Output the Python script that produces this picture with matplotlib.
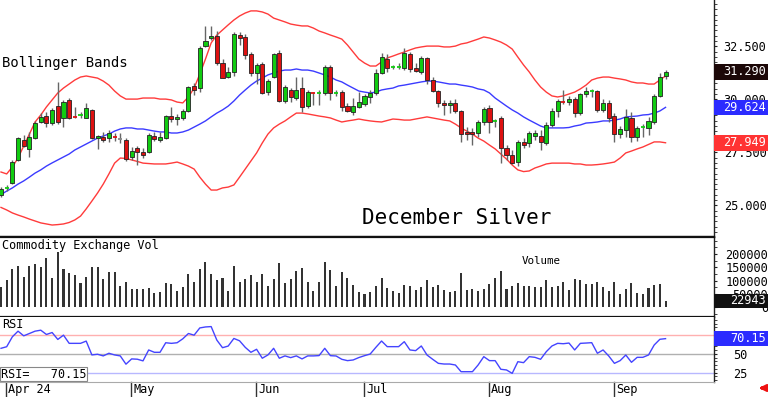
import matplotlib
matplotlib.use('Agg')
import matplotlib.pyplot as plt
import matplotlib.transforms as mtrans
from matplotlib.patches import Rectangle, FancyArrowPatch
from matplotlib.ticker import MultipleLocator, FixedLocator
import numpy as np

# ---------------- data ----------------
opens = [25.49, 25.80, 26.05, 27.14, 28.08, 27.66, 28.17, 28.93, 29.21, 28.88,
         29.68, 29.12, 29.97, 29.19, 29.24, 29.12, 29.50, 28.17, 28.22, 28.17,
         28.24, 28.13, 28.08, 27.28, 27.70, 27.51, 27.51, 28.27, 28.08, 28.17,
         29.21, 29.07, 29.12, 29.45, 30.63, 30.53, 32.51, 32.89, 32.99, 31.71,
         31.05, 31.29, 33.03, 32.94, 32.14, 31.24, 31.67, 30.34, 31.05, 32.18,
         29.92, 30.44, 30.06, 30.53, 29.68, 30.30, 30.30, 30.30, 31.52, 30.30,
         30.34, 29.68, 29.40, 29.64, 29.78, 30.11, 30.30, 31.24, 31.90, 31.50,
         31.52, 31.48, 32.14, 31.48, 31.29, 31.95, 30.91, 30.39, 29.83, 29.73,
         29.83, 29.45, 28.46, 28.46, 28.41, 28.93, 29.59, 28.95, 29.12, 27.70,
         27.37, 27.04, 27.99, 27.94, 28.27, 28.27, 27.94, 28.79, 29.45, 29.90,
         29.87, 30.01, 29.35, 30.25, 30.35, 30.39, 29.50, 29.83, 29.21, 28.36,
         28.55, 29.12, 28.22, 28.67, 28.65, 28.93, 30.15, 31.10]
highs = [25.85, 25.96, 27.14, 28.22, 28.32, 28.46, 28.98, 29.35, 29.40, 29.60,
         30.82, 29.97, 30.06, 29.64, 29.40, 29.83, 29.55, 28.32, 28.46, 28.55,
         28.41, 28.41, 28.17, 27.75, 27.80, 27.70, 28.41, 28.46, 28.46, 29.26,
         29.64, 29.31, 29.54, 30.63, 30.77, 32.51, 33.46, 33.46, 33.22, 31.90,
         31.52, 33.18, 33.18, 33.08, 32.23, 31.71, 31.76, 30.96, 32.18, 32.33,
         30.67, 30.53, 31.05, 31.05, 30.44, 30.34, 30.44, 31.62, 31.62, 30.44,
         30.44, 29.83, 30.06, 30.34, 30.25, 30.44, 31.44, 32.18, 32.14, 31.62,
         31.71, 32.42, 32.23, 31.71, 32.04, 32.00, 31.05, 30.44, 29.97, 29.97,
         30.01, 29.50, 28.69, 28.65, 29.02, 29.64, 29.73, 29.07, 29.21, 27.84,
         27.61, 28.08, 28.17, 28.50, 28.55, 28.55, 28.93, 29.59, 30.01, 30.44,
         30.15, 30.11, 30.30, 30.58, 30.49, 30.44, 30.01, 29.97, 29.35, 28.74,
         29.54, 29.40, 28.74, 28.83, 29.16, 30.25, 31.24, 31.38]
lows = [25.40, 25.68, 26.00, 27.10, 27.75, 27.28, 28.13, 28.88, 28.68, 28.80,
        28.85, 28.69, 29.07, 29.10, 29.14, 29.10, 28.13, 27.66, 27.98, 27.98,
        28.03, 27.93, 27.09, 27.14, 26.90, 27.23, 27.46, 28.03, 27.98, 28.13,
        28.93, 28.80, 29.03, 29.40, 30.20, 30.34, 32.47, 32.80, 31.62, 31.00,
        31.00, 31.10, 32.56, 31.90, 31.10, 30.72, 30.25, 30.20, 31.00, 29.87,
        29.82, 29.87, 29.97, 29.40, 29.59, 29.73, 29.73, 30.20, 29.97, 30.15,
        29.45, 29.40, 29.26, 29.59, 29.68, 29.82, 30.20, 31.20, 31.29, 31.43,
        31.43, 31.38, 31.29, 31.29, 31.20, 30.72, 30.34, 29.64, 29.26, 29.35,
        29.35, 27.98, 28.08, 27.84, 28.22, 28.79, 28.41, 28.69, 26.99, 27.14,
        26.95, 26.85, 27.70, 27.75, 28.08, 27.61, 27.84, 28.69, 29.16, 29.78,
        29.73, 29.16, 29.26, 30.11, 30.11, 29.40, 29.40, 28.93, 27.99, 28.17,
        28.22, 27.99, 28.03, 28.22, 28.32, 28.83, 30.11, 30.96]
closes = [25.77, 25.82, 27.04, 28.17, 27.80, 28.22, 28.88, 29.17, 28.88, 29.50,
          28.93, 29.87, 29.12, 29.15, 29.28, 29.59, 28.17, 28.27, 28.08, 28.41,
          28.20, 28.13, 27.18, 27.56, 27.51, 27.37, 28.32, 28.13, 28.22, 29.21,
          29.07, 29.17, 29.45, 30.58, 30.44, 32.42, 32.75, 32.99, 31.71, 31.00,
          31.29, 33.08, 32.89, 32.09, 31.24, 31.62, 30.30, 30.86, 32.14, 29.92,
          30.58, 30.11, 30.44, 29.64, 30.34, 30.27, 30.34, 31.52, 30.30, 30.34,
          29.64, 29.45, 29.68, 29.87, 30.15, 30.30, 31.24, 32.00, 31.48, 31.54,
          31.55, 32.18, 31.43, 31.33, 31.95, 30.91, 30.39, 29.83, 29.73, 29.83,
          29.45, 28.36, 28.36, 28.36, 28.93, 29.54, 28.93, 28.99, 27.70, 27.37,
          27.00, 27.99, 27.84, 28.41, 28.41, 27.99, 28.79, 29.45, 29.92, 29.85,
          30.01, 29.35, 30.25, 30.39, 30.39, 29.50, 29.83, 29.12, 28.36, 28.60,
          29.17, 28.22, 28.65, 28.70, 28.98, 30.15, 31.05, 31.29]

bb_upper = [26.57, 26.48, 26.81, 27.23, 27.80, 28.36, 28.93, 29.26, 29.64, 29.97,
            30.30, 30.53, 30.72, 30.91, 31.05, 31.10, 31.05, 31.00, 30.86, 30.67,
            30.39, 30.16, 30.01, 30.01, 30.01, 30.06, 30.06, 30.06, 30.01, 30.01,
            29.97, 29.87, 29.83, 30.11, 30.53, 31.19, 31.90, 32.66, 33.03, 33.27,
            33.51, 33.74, 33.93, 34.07, 34.17, 34.17, 34.12, 34.02, 33.83, 33.74,
            33.65, 33.55, 33.50, 33.46, 33.46, 33.36, 33.22, 33.13, 33.03, 32.94,
            32.84, 32.56, 32.23, 31.90, 31.71, 31.57, 31.57, 31.76, 31.95, 32.04,
            32.14, 32.23, 32.33, 32.42, 32.47, 32.51, 32.51, 32.51, 32.47, 32.47,
            32.51, 32.61, 32.66, 32.75, 32.84, 32.94, 32.89, 32.80, 32.70, 32.56,
            32.37, 31.99, 31.62, 31.29, 30.91, 30.58, 30.34, 30.16, 30.11, 30.16,
            30.25, 30.34, 30.49, 30.67, 30.91, 31.00, 31.05, 31.05, 31.00, 30.96,
            30.91, 30.82, 30.77, 30.77, 30.72, 30.72, 30.91, 31.10]
bb_middle = [25.51, 25.67, 25.82, 26.00, 26.15, 26.33, 26.52, 26.67, 26.85, 27.00,
             27.14, 27.28, 27.42, 27.61, 27.75, 27.89, 28.03, 28.17, 28.27, 28.36,
             28.50, 28.60, 28.65, 28.65, 28.60, 28.60, 28.55, 28.50, 28.46, 28.46,
             28.41, 28.41, 28.46, 28.55, 28.69, 28.83, 28.98, 29.17, 29.35, 29.50,
             29.68, 29.92, 30.20, 30.44, 30.67, 30.86, 31.00, 31.15, 31.24, 31.33,
             31.38, 31.38, 31.43, 31.38, 31.38, 31.33, 31.24, 31.15, 31.05, 30.91,
             30.82, 30.67, 30.53, 30.39, 30.34, 30.30, 30.34, 30.44, 30.49, 30.53,
             30.63, 30.67, 30.72, 30.77, 30.82, 30.86, 30.86, 30.82, 30.77, 30.72,
             30.72, 30.67, 30.63, 30.58, 30.49, 30.44, 30.30, 30.06, 29.87, 29.68,
             29.50, 29.35, 29.17, 29.02, 28.88, 28.74, 28.65, 28.65, 28.65, 28.65,
             28.67, 28.74, 28.79, 28.88, 28.90, 28.93, 28.98, 28.98, 29.02, 29.07,
             29.17, 29.19, 29.21, 29.26, 29.28, 29.35, 29.45, 29.62]
bb_lower = [24.90, 24.78, 24.64, 24.54, 24.45, 24.35, 24.26, 24.17, 24.12, 24.07,
            24.09, 24.12, 24.19, 24.31, 24.49, 24.83, 25.20, 25.58, 26.00, 26.48,
            26.99, 27.23, 27.21, 27.14, 27.07, 26.99, 26.97, 26.95, 26.95, 26.95,
            26.99, 27.04, 26.95, 26.85, 26.71, 26.33, 26.00, 25.72, 25.72, 25.82,
            25.86, 25.96, 26.33, 26.71, 27.09, 27.47, 27.94, 28.36, 28.65, 28.83,
            28.98, 29.17, 29.35, 29.35, 29.31, 29.26, 29.21, 29.17, 29.12, 29.02,
            28.93, 28.98, 29.02, 29.07, 29.02, 28.98, 28.95, 28.93, 29.00, 29.07,
            29.05, 29.02, 29.02, 29.07, 29.12, 29.17, 29.12, 29.07, 29.02, 28.98,
            28.83, 28.65, 28.50, 28.36, 28.17, 28.03, 27.84, 27.66, 27.42, 27.18,
            26.90, 26.67, 26.59, 26.62, 26.76, 26.85, 26.95, 26.99, 26.99, 26.99,
            26.99, 26.95, 26.95, 26.90, 26.90, 26.92, 26.95, 26.99, 27.04, 27.23,
            27.47, 27.56, 27.66, 27.75, 27.87, 27.99, 27.99, 27.95]

volume = [76600, 102000, 143000, 155000, 114000, 155000, 162000, 152000, 186000, 111000,
          208000, 142000, 127000, 121000, 92000, 114000, 150000, 152000, 106000, 133000,
          131000, 79000, 95000, 68000, 68000, 69000, 70000, 54000, 58000, 92000,
          86000, 60000, 77000, 125000, 95000, 142000, 171000, 125000, 102000, 111000,
          60000, 156000, 93000, 106000, 121000, 93000, 123000, 78000, 106000, 167000,
          89000, 106000, 136000, 146000, 93000, 62000, 93000, 171000, 140000, 79000,
          133000, 111000, 83000, 58000, 49000, 55000, 80000, 108000, 73000, 60000,
          54000, 83000, 80000, 64000, 77000, 102000, 77000, 83000, 64000, 58000,
          60000, 127000, 64000, 68000, 60000, 68000, 86000, 108000, 137000, 68000,
          80000, 89000, 80000, 80000, 77000, 77000, 102000, 77000, 80000, 93000,
          64000, 105000, 102000, 86000, 86000, 95000, 77000, 60000, 93000, 48000,
          67000, 89000, 52000, 49000, 70000, 83000, 87000, 22943]

rsi = [57.3, 59.4, 72.6, 80.1, 73.9, 77.0, 80.1, 81.4, 75.7, 78.3,
       69.1, 74.8, 63.9, 63.9, 63.9, 66.9, 48.5, 49.4, 47.2, 50.7,
       48.5, 47.2, 36.2, 43.2, 42.8, 40.6, 55.1, 52.0, 52.0, 64.7,
       63.9, 64.7, 69.9, 77.0, 74.8, 84.4, 85.7, 86.2, 68.2, 58.1,
       60.3, 70.4, 67.3, 58.6, 52.0, 56.0, 44.1, 48.5, 57.3, 44.1,
       47.2, 44.9, 47.2, 43.2, 47.2, 47.2, 47.6, 57.3,
       47.5, 47.1, 42.7, 40.9, 41.8, 45.0, 47.5, 49.7, 58.6, 67.0,
       59.5, 59.5, 59.5, 66.1, 55.1, 54.2, 60.4, 48.4, 42.7, 37.3,
       36.4, 36.4, 35.1, 26.2, 26.2, 26.2, 35.1, 46.2, 40.9, 40.9,
       29.4, 28.5, 24.0, 39.5, 38.2, 46.2, 45.3, 42.7, 52.8, 60.4,
       63.9, 63.4, 64.3, 55.1, 63.9, 64.3, 64.8, 50.7, 55.1, 47.1,
       37.3, 40.9, 48.4, 38.7, 45.3, 45.3, 48.4, 61.7, 69.3, 70.15]

month_pos = [1, 23, 45, 64, 86, 108]
month_labels = ['Apr 24', 'May', 'Jun', 'Jul', 'Aug', 'Sep']

price_ticks = [25.0, 27.5, 30.0, 32.5]
price_tick_labels = ['25.000', '27.500', '30.000', '32.500']
vol_ticks = [0, 50000, 100000, 150000, 200000]
vol_tick_labels = ['0', '50000', '100000', '150000', '200000']
rsi_ticks = [25, 50, 75]
rsi_tick_labels = ['25', '50', '75']

last_close_label = '31.290'
mid_label = '29.624'
low_label = '27.949'
last_volume_label = '22943'
rsi_label = '70.15'

# ---------------- styling ----------------
plt.rcParams['font.family'] = ['DejaVu Sans Mono', 'DejaVu Sans']
UP = '#11cc11'
DOWN = '#dd1111'
EDGE = '#222222'
WICK = '#666666'
BAND_RED = '#ff3b3b'
BAND_BLUE = '#3b3bff'
FS = 8.6

W, H = 768, 397
fig = plt.figure(figsize=(W / 100, H / 100), dpi=100)
fig.patch.set_facecolor('white')


def rect(top, bottom, left=0, right=714):
    return [left / W, 1 - bottom / H, (right - left) / W, (bottom - top) / H]


axp = fig.add_axes(rect(0, 237))
axv = fig.add_axes(rect(237, 317))
axr = fig.add_axes(rect(317, 381.7))

n = len(closes)
x = np.arange(n)
xlim = (-0.176, 125.53)

for ax in (axp, axv, axr):
    ax.set_xlim(*xlim)
    ax.set_xticks([])
    ax.yaxis.tick_right()
    ax.spines['left'].set_visible(False)
    ax.spines['right'].set_color('#222222')
    ax.spines['right'].set_linewidth(1.0)
    ax.tick_params(axis='y', which='both', direction='out', colors='#222222',
                   labelcolor='black', labelsize=FS)
    ax.tick_params(axis='y', which='major', length=2, width=0.8)
    ax.tick_params(axis='y', which='minor', length=2, width=0.6)

# ---- price panel ----
axp.set_ylim(23.505, 34.684)
axp.spines['top'].set_visible(False)
axp.spines['bottom'].set_color('#111111')
axp.spines['bottom'].set_linewidth(1.6)

o = np.array(opens); c = np.array(closes)
h = np.array(highs); l = np.array(lows)
axp.vlines(x, l, h, color=WICK, lw=1.0, zorder=2)
small = np.abs(c - o) < 0.05
big = ~small
cols = np.where(c > o, UP, np.where(c < o, DOWN, '#888888'))
axp.bar(x[big], np.abs(c - o)[big], bottom=np.minimum(o, c)[big], width=0.72,
        color=cols[big], edgecolor=EDGE, linewidth=0.6, zorder=3)
axp.hlines(((o + c) / 2)[small], x[small] - 0.36, x[small] + 0.36,
           colors=cols[small], lw=1.3, zorder=3)

axp.plot(x, bb_upper, color=BAND_RED, lw=1.0, zorder=1)
axp.plot(x, bb_lower, color=BAND_RED, lw=1.0, zorder=1)
axp.plot(x, bb_middle, color=BAND_BLUE, lw=1.0, zorder=1)

axp.set_yticks(price_ticks, price_tick_labels)
axp.yaxis.set_minor_locator(MultipleLocator(0.25))
axp.tick_params(axis='y', which='major', pad=5)

axp.text(2 / 714, 1 - 63 / 237, 'Bollinger Bands', transform=axp.transAxes,
         ha='left', va='center', fontsize=10, color='black')
axp.text(362 / 714, 1 - 218 / 237, 'December Silver', transform=axp.transAxes,
         ha='left', va='center', fontsize=15, color='black')

# ---- volume panel ----
axv.set_ylim(-37740, 264180)
for s in ('top', 'bottom'):
    axv.spines[s].set_color('#111111')
    axv.spines[s].set_linewidth(1.6)
axv.bar(x, volume, width=0.36, color='#333333', zorder=2)
axv.set_yticks(vol_ticks, vol_tick_labels)
axv.yaxis.set_minor_locator(MultipleLocator(25000))
axv.tick_params(axis='y', which='major', pad=37)
for lab in axv.get_yticklabels():
    lab.set_horizontalalignment('right')
axv.text(2 / 714, 1 - 8 / 80, 'Commodity Exchange Vol', transform=axv.transAxes,
         ha='left', va='center', fontsize=8.6)
axv.text(522 / 714, 1 - 24 / 80, 'Volume', transform=axv.transAxes,
         ha='left', va='center', fontsize=7.8)

# ---- RSI panel ----
axr.set_ylim(12.89, 98.94)
axr.spines['top'].set_visible(False)
axr.spines['bottom'].set_color('#aaaaaa')
axr.spines['bottom'].set_linewidth(0.8)
axr.axhline(75, color='#ffb0b0', lw=1.0, zorder=1)
axr.axhline(50, color='#b0b0b0', lw=1.0, zorder=1)
axr.axhline(25, color='#b8b8ff', lw=1.0, zorder=1)
axr.plot(x, rsi, color='#4444ff', lw=1.0, zorder=3)
axr.set_yticks(rsi_ticks, rsi_tick_labels)
axr.yaxis.set_minor_locator(MultipleLocator(5))
axr.tick_params(axis='y', which='major', pad=12)
axr.text(2 / 714, 1 - 8 / 64.7, 'RSI', transform=axr.transAxes,
         ha='left', va='center', fontsize=8.6)
axr.add_patch(Rectangle((0, 0.011), 87 / 714, 0.216, transform=axr.transAxes,
                        facecolor='white', edgecolor='#888888', lw=0.8, zorder=4))
axr.text(1 / 714, 0.119, 'RSI=   ' + rsi_label, transform=axr.transAxes,
         ha='left', va='center', fontsize=8.5, zorder=5)

# ---- date axis ----
bl = mtrans.blended_transform_factory(axr.transData, axr.transAxes)
for pos, lab in zip(month_pos, month_labels):
    axr.plot([pos - 0.1, pos - 0.1], [0, -0.24], transform=bl, clip_on=False,
             color='#333333', lw=1.0)
    axr.text(pos + 0.3, -0.118, lab, transform=bl, ha='left', va='center',
             fontsize=FS, clip_on=False)

# ---- right-side value boxes ----
x0 = 714 / W
bw = 1 - x0


def value_box(ax, value, text, color, half_height):
    tr = mtrans.blended_transform_factory(fig.transFigure, ax.transData)
    fig.add_artist(Rectangle((x0, value - half_height), bw, 2 * half_height,
                             transform=tr, facecolor=color, edgecolor='none',
                             zorder=5, clip_on=False))
    fig.text(766 / W, value, text, transform=tr, ha='right', va='center',
             color='white', fontsize=FS, zorder=6)


value_box(axp, closes[-1], last_close_label, '#1c0808', 0.37)
value_box(axp, bb_middle[-1], mid_label, '#2b2bff', 0.37)
value_box(axp, bb_lower[-1], low_label, '#ff3333', 0.37)
value_box(axv, volume[-1], last_volume_label, '#111111', 28000)
value_box(axr, rsi[-1], rsi_label, '#2b2bff', 10.0)

# red arrow bottom right
fig.add_artist(FancyArrowPatch((767 / W, 1 - 388 / H), (756 / W, 1 - 388 / H),
                               transform=fig.transFigure, arrowstyle='-|>',
                               mutation_scale=9, color='#ee1111', lw=2.2))

fig.savefig('out.png', dpi=100, facecolor='white')
